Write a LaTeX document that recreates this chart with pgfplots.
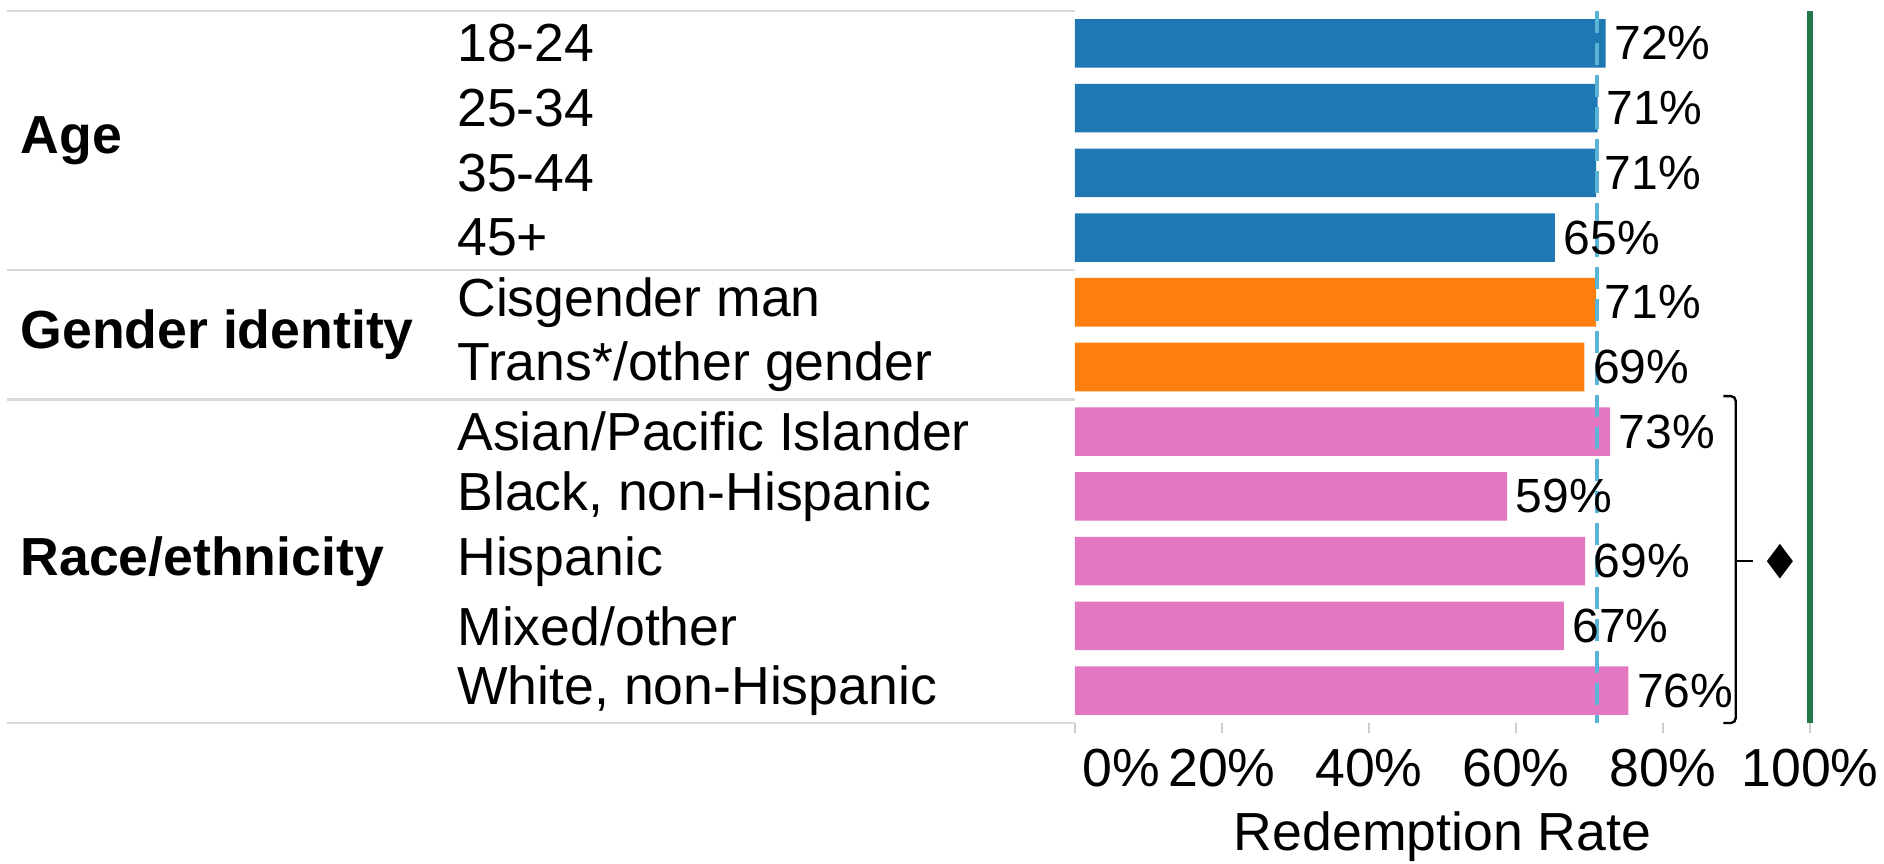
\documentclass[border=0pt]{standalone}
\usepackage{fontspec}
\setmainfont{Liberation Sans}
\usepackage{pgfplots}
\pgfplotsset{compat=1.18}

\definecolor{barblue}{HTML}{1F77B4}
\definecolor{barorange}{HTML}{FF7F0E}
\definecolor{barpink}{HTML}{E377C2}
\definecolor{refblue}{HTML}{5AB4D6}
\definecolor{refgreen}{HTML}{23784A}
\definecolor{sepgray}{HTML}{D9D9D9}

\begin{document}
\fontsize{13.4}{16}\selectfont
\begin{tikzpicture}
\begin{axis}[
  scale only axis,
  width=183.75pt, height=178pt,
  xmin=0, xmax=100,
  ymin=-0.5, ymax=10.5,
  y dir=reverse,
  axis x line*=bottom, axis y line*=left,
  axis line style={draw=none},
  ytick={0,...,10},
  yticklabels={18-24,25-34,35-44,45+,Cisgender man,Trans*/other gender,Asian/Pacific Islander,{Black, non-Hispanic},Hispanic,Mixed/other,{White, non-Hispanic}},
  yticklabel style={anchor=west, xshift=-152.1pt, inner sep=0pt},
  ytick style={draw=none},
  xtick={20,40,60,80,100},
  xticklabels={20\%,40\%,60\%,80\%,100\%},
  extra x ticks={0},
  extra x tick labels={0\%},
  extra x tick style={xticklabel style={anchor=north west, xshift=1.75pt}},
  tick align=outside,
  major tick length=2.5pt,
  xtick style={draw=gray!40, line width=0.5pt},
  xticklabel style={inner sep=0pt, yshift=-3.75pt},
  xlabel={Redemption Rate},
  xlabel style={at={(axis description cs:0.5,0)}, anchor=center, yshift=-28.5pt},
  clip=false,
  nodes near coords={\pgfplotspointmeta\%},
  nodes near coords align={horizontal},
  every node near coord/.append style={font=\fontsize{12}{14}\selectfont, anchor=west, inner sep=2pt, text=black},
]
% bars: age, gender identity, race/ethnicity
\addplot[xbar, bar width=0.75, bar shift=0pt, fill=barblue, draw=none, point meta=explicit symbolic]
  coordinates {(72.2,0) [72] (71.1,1) [71] (70.9,2) [71] (65.3,3) [65]};
\addplot[xbar, bar width=0.75, bar shift=0pt, fill=barorange, draw=none, point meta=explicit symbolic]
  coordinates {(70.9,4) [71] (69.3,5) [69]};
\addplot[xbar, bar width=0.75, bar shift=0pt, fill=barpink, draw=none, point meta=explicit symbolic]
  coordinates {(72.8,6) [73] (58.8,7) [59] (69.4,8) [69] (66.5,9) [67] (75.3,10) [76]};

% overall rate and 100% line
\addplot[refblue, line width=1pt, dash pattern=on 5.5pt off 2.5pt, nodes near coords={}] coordinates {(71,-0.5) (71,10.5)};
\addplot[refgreen, line width=1.4pt, nodes near coords={}] coordinates {(100,-0.5) (100,10.5)};

% significance marker
\addplot[only marks, mark=diamond*, mark size=4pt, black, nodes near coords={}] coordinates {(95.9,8)};

% brace round race/ethnicity
\draw[black, line width=0.6pt, rounded corners=1.2pt] (axis cs:88.2,5.45) -- (axis cs:89.9,5.45) -- (axis cs:89.9,10.5) -- (axis cs:88.2,10.5);
\draw[black, line width=0.6pt] (axis cs:89.9,8) -- (axis cs:92.2,8);

% group separators and labels
\draw[sepgray, line width=0.6pt] ([xshift=-267pt]axis cs:0,-0.5) -- (axis cs:0,-0.5);
\draw[sepgray, line width=0.6pt] ([xshift=-267pt]axis cs:0,3.5) -- (axis cs:0,3.5);
\draw[sepgray, line width=0.6pt] ([xshift=-267pt]axis cs:0,5.5) -- (axis cs:0,5.5);
\draw[sepgray, line width=0.6pt] ([xshift=-267pt]axis cs:0,10.5) -- (axis cs:0,10.5);
\node[anchor=west, inner sep=0pt, font=\bfseries] at ([xshift=-263.8pt]axis cs:0,1.5) {Age};
\node[anchor=west, inner sep=0pt, font=\bfseries] at ([xshift=-263.8pt]axis cs:0,4.5) {Gender identity};
\node[anchor=west, inner sep=0pt, font=\bfseries] at ([xshift=-263.8pt]axis cs:0,8) {Race/ethnicity};
\end{axis}
\pgfresetboundingbox
\path[use as bounding box] (-268.75pt,-35.25pt) rectangle (202.25pt,180.75pt);
\end{tikzpicture}
\end{document}
